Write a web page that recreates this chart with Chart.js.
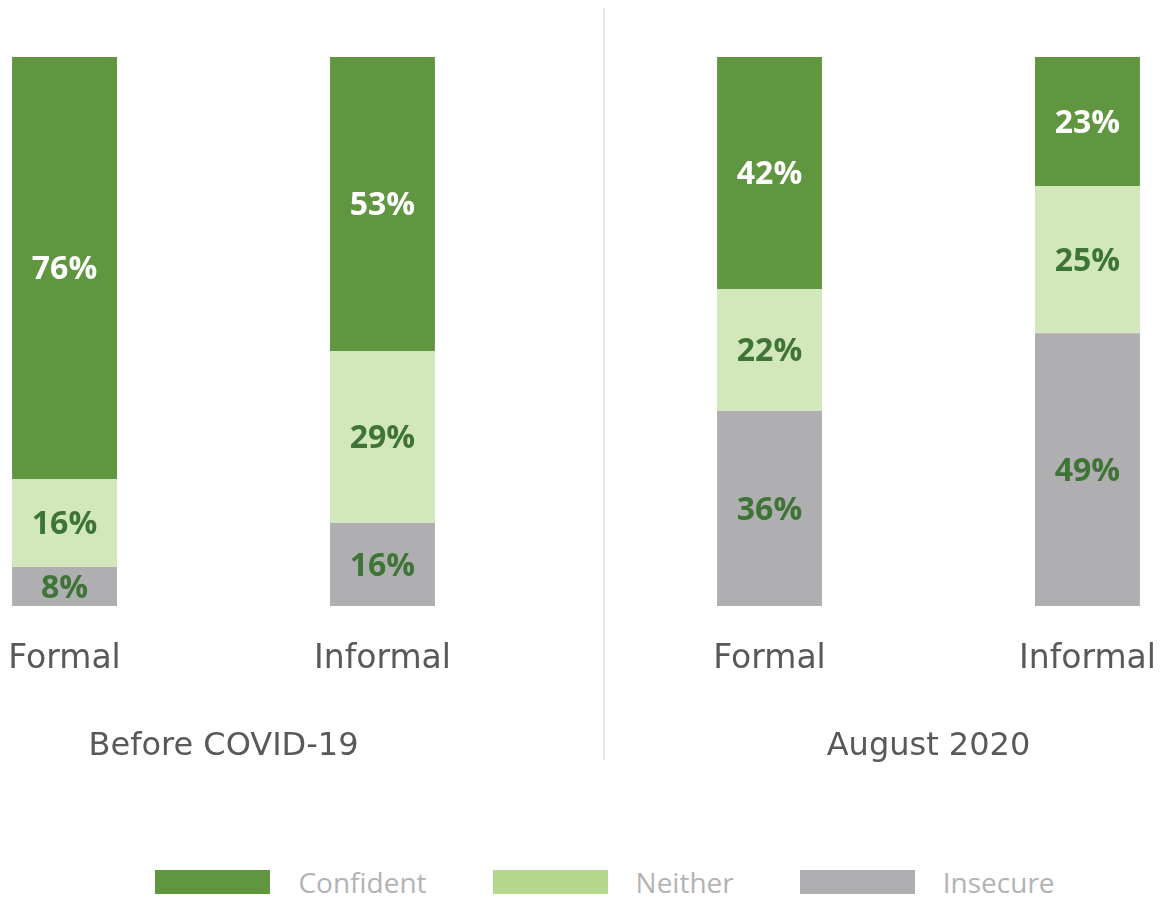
<!DOCTYPE html>
<html>
<head>
<meta charset="utf-8">
<title>Confidence by sector</title>
<script src="https://cdn.jsdelivr.net/npm/chart.js@4.4.1/dist/chart.umd.min.js"></script>
<style>
    html, body { margin: 0; padding: 0; background: #fff; overflow: hidden; }
    body { width: 1166px; height: 897px; position: relative; }
    /* canvas is wider than the page: the source picture is cropped on both sides */
    #chart-wrap { position: absolute; left: -129px; top: 0; width: 1410px; height: 800px; }
    #divider { position: absolute; left: 603px; top: 8px; width: 2px; height: 752px; background: #e9e9df; }
    #legend { position: absolute; top: 863px; left: 22px; width: 1166px; display: flex; justify-content: center; align-items: center; font-family: 'Open Sans', sans-serif; font-size: 28px; color: #b3b3b3; }
    #legend .item { display: flex; align-items: center; margin: 0 33px; }
    #legend .box { width: 115px; height: 24px; margin-right: 28px; }
</style>
</head>
<body>
<div id="chart-wrap"><canvas id="confidence-chart"></canvas></div>
<div id="divider"></div>
<div id="legend"></div>
<script>
const periods = ['Before COVID-19', 'August 2020'];
const sectors = ['Formal', 'Informal'];
const levels = ['Confident', 'Neither', 'Insecure'];

// segment heights (share of the bar)
const formalConfident = [76.9, 42.3];
const formalNeither = [16.0, 22.2];
const formalInsecure = [7.1, 35.5];
const informalConfident = [53.6, 23.5];
const informalNeither = [31.3, 26.8];
const informalInsecure = [15.1, 49.7];

// percentages as printed on the bars
const formalConfidentLabel = [76, 42];
const formalNeitherLabel = [16, 22];
const formalInsecureLabel = [8, 36];
const informalConfidentLabel = [53, 23];
const informalNeitherLabel = [29, 25];
const informalInsecureLabel = [16, 49];

const barColors = { Confident: '#5f963f', Neither: '#d3e7bd', Insecure: '#afafb1' };
const legendColors = { Confident: '#5f963f', Neither: '#b3d88e', Insecure: '#afafb1' };
const textColors = { Confident: '#ffffff', Neither: '#3e7536', Insecure: '#3e7536' };

function makeSet(sector, level, values, printed) {
    return {
        label: level,
        stack: sector,
        data: values,
        printed: printed,
        backgroundColor: barColors[level],
        labelColor: textColors[level],
        borderWidth: 0,
        categoryPercentage: 0.902,
        barPercentage: 0.33
    };
}

// bottom segment first so it stacks from the baseline up
const datasets = [
    makeSet('Formal', 'Insecure', formalInsecure, formalInsecureLabel),
    makeSet('Formal', 'Neither', formalNeither, formalNeitherLabel),
    makeSet('Formal', 'Confident', formalConfident, formalConfidentLabel),
    makeSet('Informal', 'Insecure', informalInsecure, informalInsecureLabel),
    makeSet('Informal', 'Neither', informalNeither, informalNeitherLabel),
    makeSet('Informal', 'Confident', informalConfident, informalConfidentLabel)
];

const valueLabels = {
    id: 'valueLabels',
    afterDatasetsDraw(chart) {
        const ctx = chart.ctx;
        ctx.save();
        ctx.font = 'bold 32px "Open Sans"';
        ctx.textAlign = 'center';
        ctx.textBaseline = 'middle';
        chart.data.datasets.forEach((ds, i) => {
            chart.getDatasetMeta(i).data.forEach((bar, j) => {
                ctx.fillStyle = ds.labelColor;
                ctx.fillText(ds.printed[j] + '%', bar.x, (bar.y + bar.base) / 2 + 2);
            });
        });
        ctx.restore();
    }
};

// sector names under each bar, period names under each pair
const axisLabels = {
    id: 'axisLabels',
    afterDraw(chart) {
        const ctx = chart.ctx;
        const bottom = chart.chartArea.bottom;
        ctx.save();
        ctx.fillStyle = '#595959';
        ctx.textAlign = 'center';
        ctx.textBaseline = 'middle';
        ctx.font = '33px "DejaVu Sans"';
        chart.data.datasets.forEach((ds, i) => {
            if (ds.label !== 'Insecure') return;
            chart.getDatasetMeta(i).data.forEach(bar => {
                ctx.fillText(ds.stack, bar.x, bottom + 53);
            });
        });
        ctx.font = '32px "DejaVu Sans"';
        const xScale = chart.scales.x;
        periods.forEach((p, i) => {
            ctx.fillText(p, xScale.getPixelForValue(i), bottom + 141);
        });
        ctx.restore();
    }
};

new Chart(document.getElementById('confidence-chart'), {
    type: 'bar',
    data: { labels: periods, datasets: datasets },
    options: {
        responsive: true,
        maintainAspectRatio: false,
        animation: false,
        layout: { padding: { top: 57, bottom: 186, left: 0, right: 0 } },
        plugins: {
            legend: { display: false },
            tooltip: { enabled: false }
        },
        scales: {
            x: {
                stacked: true,
                grid: { display: false },
                border: { display: false },
                ticks: { display: false }
            },
            y: {
                stacked: true,
                display: false,
                min: 0,
                max: 100
            }
        }
    },
    plugins: [valueLabels, axisLabels]
});

// legend built from the level names
document.getElementById('legend').innerHTML = levels.map(l =>
    `<div class="item"><div class="box" style="background:${legendColors[l]}"></div><span>${l}</span></div>`
).join('');
</script>
</body>
</html>
